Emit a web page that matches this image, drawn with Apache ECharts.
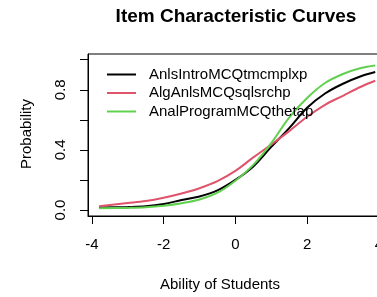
<!DOCTYPE html>
<html lang="en">
	<head>
		<meta charset="utf-8">
		<title>Item Characteristic Curves</title>
		<style>
			html, body { margin: 0; padding: 0; background: #fff; overflow: hidden; }
			#chart { width: 400px; height: 297px; }
		</style>
	</head>
	<body>
		<div id="chart"></div>
		<script src="https://cdn.jsdelivr.net/npm/echarts@6/dist/echarts.min.js"></script>
		<script>
			var abilityX = [-3.8, -3, -2.5, -2, -1.5, -1, -0.5, 0, 0.5, 1, 1.5, 2, 2.5, 3, 3.5, 3.9];

			// probabilities per item
			var introProb = [0.016, 0.02, 0.025, 0.04, 0.066, 0.09, 0.13, 0.2, 0.29, 0.42, 0.545, 0.68, 0.775, 0.84, 0.89, 0.918];
			var algProb = [0.025, 0.046, 0.06, 0.082, 0.11, 0.145, 0.192, 0.26, 0.35, 0.435, 0.525, 0.62, 0.7, 0.76, 0.82, 0.86];
			var progProb = [0.011, 0.014, 0.018, 0.028, 0.045, 0.07, 0.115, 0.195, 0.3, 0.445, 0.615, 0.745, 0.845, 0.905, 0.945, 0.962];

			var seriesNames = ['AnlsIntroMCQtmcmplxp', 'AlgAnlsMCQsqlsrchp', 'AnalProgramMCQthetap'];
			var seriesColors = ['#000000', '#DF536B', '#61D04F'];

			var xTicks = [-4, -2, 0, 2, 4];
			var yTicks = [0, 0.2, 0.4, 0.6, 0.8, 1.0];
			var yLabels = [0, 0.4, 0.8];

			function pairs(ys) {
				var out = [];
				for (var i = 0; i < abilityX.length; i++) {
					out.push([abilityX[i], ys[i]]);
				}
				return out;
			}

			var allProb = [introProb, algProb, progProb];
			var series = [];
			for (var s = 0; s < allProb.length; s++) {
				series.push({
					name: seriesNames[s],
					type: 'line',
					smooth: 0.35,
					symbol: 'none',
					data: pairs(allProb[s]),
					lineStyle: { color: seriesColors[s], width: 2 },
					itemStyle: { color: seriesColors[s] },
					emphasis: { disabled: true }
				});
			}

			var font = 'Liberation Sans, Arial, sans-serif';

			var option = {
				animation: false,
				backgroundColor: '#fff',
				textStyle: { fontFamily: font },
				// plot box runs past the right edge of the 377px window, as in the original
				grid: {
					left: 88,
					right: 11.5,
					top: 54,
					bottom: 81,
					show: true,
					borderColor: '#000',
					borderWidth: 1
				},
				legend: {
					orient: 'vertical',
					left: 102,
					top: 62,
					icon: 'rect',
					itemWidth: 29,
					itemHeight: 2,
					itemGap: 3.5,
					selectedMode: false,
					textStyle: { fontSize: 15, color: '#000', fontFamily: font, padding: [0, 0, 0, 8] },
					data: seriesNames
				},
				xAxis: {
					type: 'value',
					min: -4.11,
					max: 4.27,
					splitLine: { show: false },
					axisLine: { show: true, onZero: false, lineStyle: { color: '#000' } },
					axisTick: { show: true, length: 8, lineStyle: { color: '#000' }, customValues: xTicks },
					axisLabel: {
						customValues: xTicks,
						margin: 21,
						fontSize: 15,
						color: '#000',
						fontFamily: font
					}
				},
				yAxis: {
					type: 'value',
					min: -0.04,
					max: 1.038,
					splitLine: { show: false },
					axisLine: { show: true, onZero: false, lineStyle: { color: '#000' } },
					axisTick: { show: true, length: 8, lineStyle: { color: '#000' }, customValues: yTicks },
					axisLabel: {
						customValues: yLabels,
						rotate: 90,
						margin: 20,
						fontSize: 15,
						color: '#000',
						fontFamily: font,
						formatter: function (v) { return v.toFixed(1); }
					}
				},
				graphic: [
					{
						type: 'text',
						x: 236, y: 17,
						style: { text: 'Item Characteristic Curves', font: 'bold 19px ' + font, fill: '#000', textAlign: 'center', textVerticalAlign: 'middle' }
					},
					{
						type: 'text',
						x: 220, y: 285,
						style: { text: 'Ability of Students', font: '15px ' + font, fill: '#000', textAlign: 'center', textVerticalAlign: 'middle' }
					},
					{
						type: 'text',
						x: 27, y: 134,
						rotation: Math.PI / 2,
						style: { text: 'Probability', font: '15px ' + font, fill: '#000', textAlign: 'center', textVerticalAlign: 'middle' }
					}
				],
				series: series
			};

			var myChart = echarts.init(document.getElementById('chart'));
			myChart.setOption(option);
		</script>
	</body>
</html>
